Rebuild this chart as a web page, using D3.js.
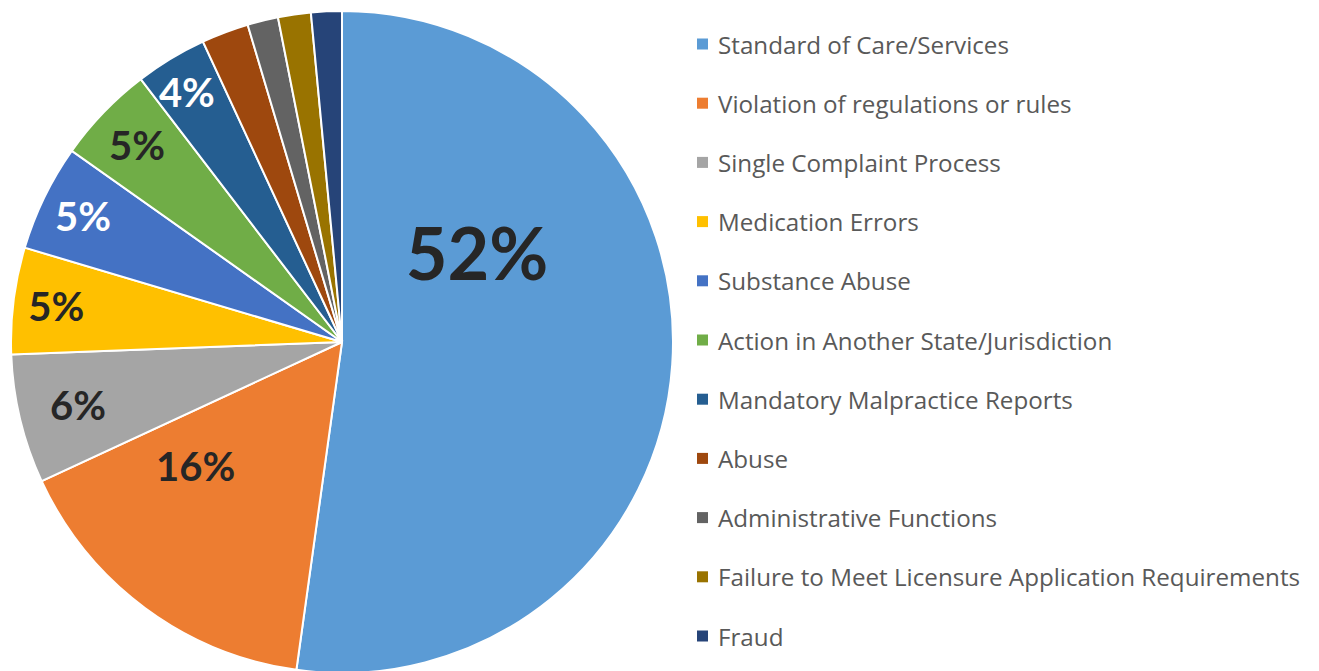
<!DOCTYPE html>
<html>
<head>
<meta charset="utf-8">
<script src="https://cdn.jsdelivr.net/npm/d3@7"></script>
<style>
  html, body { margin: 0; padding: 0; background: #fff; }
  svg { display: block; }
</style>
</head>
<body>
<svg id="chart" width="1319" height="671"></svg>
<script>
const categories = [
  "Standard of Care/Services",
  "Violation of regulations or rules",
  "Single Complaint Process",
  "Medication Errors",
  "Substance Abuse",
  "Action in Another State/Jurisdiction",
  "Mandatory Malpractice Reports",
  "Abuse",
  "Administrative Functions",
  "Failure to Meet Licensure Application Requirements",
  "Fraud"
];
const values = [52.2, 15.9, 6.3, 5.2, 5.2, 4.8, 3.5, 2.3, 1.5, 1.6, 1.5];
const labels = ["52%", "16%", "6%", "5%", "5%", "5%", "4%", "", "", "", ""];
const colors = ["#5B9BD5", "#ED7D31", "#A5A5A5", "#FFC000", "#4472C4", "#70AD47",
                "#255E91", "#9E480E", "#636363", "#997300", "#264478"];
const labelColors = ["#262626", "#262626", "#262626", "#262626", "#fff", "#262626", "#fff"];

const width = 1319, height = 671;
const cx = 342, cy = 342, R = 331;
const svg = d3.select("#chart");

const pie = d3.pie().sort(null).value(d => d);
const arcs = pie(values);
const arc = d3.arc().innerRadius(0).outerRadius(R);

const g = svg.append("g").attr("transform", `translate(${cx},${cy})`);

g.selectAll("path.slice")
  .data(arcs)
  .join("path")
  .attr("class", "slice")
  .attr("d", arc)
  .attr("fill", (d, i) => colors[i])
  .attr("stroke", "#fff")
  .attr("stroke-width", 2);

// label placement: fraction along slice angle, fraction of radius
const labelAt = [[0.30, 0.49], [0.73, 0.58], [0.5, 0.82], [0.5, 0.87], [0.5, 0.87], [0.5, 0.86], [0.45, 0.89]];
const labelSize = [72, 40, 40, 40, 40, 40, 40];

g.selectAll("text.lbl")
  .data(arcs.filter((d, i) => labels[i]))
  .join("text")
  .attr("class", "lbl")
  .each(function(d, i) {
    const [f, rf] = labelAt[i];
    const a = d.startAngle + (d.endAngle - d.startAngle) * f;
    const r = R * rf;
    d3.select(this)
      .attr("x", Math.sin(a) * r)
      .attr("y", -Math.cos(a) * r)
      .attr("font-size", labelSize[i])
      .attr("fill", labelColors[i])
      .text(labels[i]);
  })
  .attr("text-anchor", "middle")
  .attr("dominant-baseline", "central")
  .attr("font-family", "Lato, 'Open Sans', sans-serif")
  .attr("font-weight", "bold");

// Legend
const legendY = d3.scalePoint().domain(categories).range([44, 636]);
const leg = svg.append("g").selectAll("g")
  .data(categories)
  .join("g")
  .attr("transform", d => `translate(697,${legendY(d)})`);

leg.append("rect")
  .attr("x", 0).attr("y", -5.5)
  .attr("width", 11).attr("height", 11)
  .attr("fill", (d, i) => colors[i]);

leg.append("text")
  .attr("x", 21)
  .attr("dominant-baseline", "central")
  .attr("font-family", "'Open Sans', sans-serif")
  .attr("font-size", 24.2)
  .attr("fill", "#595959")
  .text(d => d);
</script>
</body>
</html>
